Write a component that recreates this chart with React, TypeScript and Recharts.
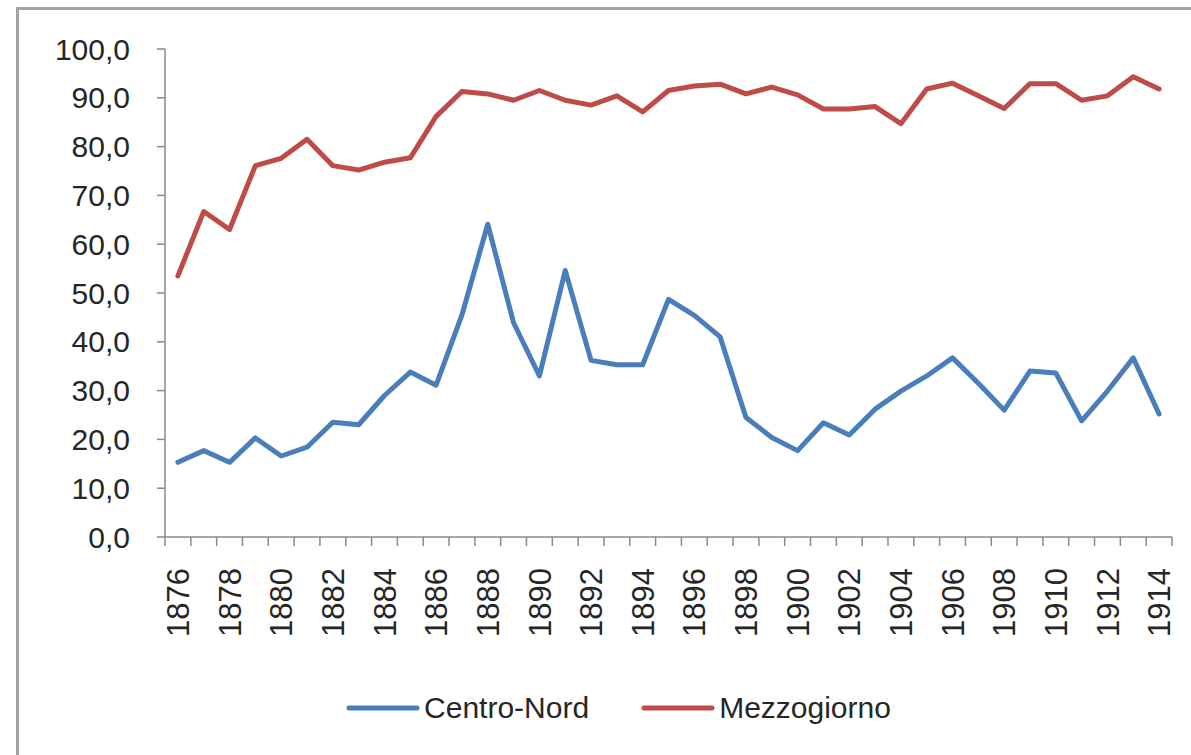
import React from "react";
import { LineChart, Line, XAxis, YAxis, Legend } from "recharts";

const years: number[] = [
  1876, 1877, 1878, 1879, 1880, 1881, 1882, 1883, 1884, 1885,
  1886, 1887, 1888, 1889, 1890, 1891, 1892, 1893, 1894, 1895,
  1896, 1897, 1898, 1899, 1900, 1901, 1902, 1903, 1904, 1905,
  1906, 1907, 1908, 1909, 1910, 1911, 1912, 1913, 1914,
];

const centroNord: number[] = [
  15.3, 17.7, 15.3, 20.3, 16.6, 18.4, 23.5, 23.0, 29.0, 33.8,
  31.1, 45.5, 64.1, 43.9, 33.0, 54.6, 36.2, 35.3, 35.3, 48.7,
  45.4, 41.0, 24.5, 20.4, 17.7, 23.4, 20.9, 26.2, 29.9, 33.0,
  36.7, 31.5, 26.0, 34.0, 33.6, 23.8, 29.9, 36.7, 25.2,
];

const mezzogiorno: number[] = [
  53.5, 66.7, 63.0, 76.1, 77.6, 81.5, 76.1, 75.2, 76.8, 77.7,
  86.2, 91.3, 90.8, 89.5, 91.5, 89.5, 88.5, 90.4, 87.1, 91.5,
  92.4, 92.8, 90.8, 92.2, 90.6, 87.7, 87.7, 88.2, 84.7, 91.8,
  93.0, 90.4, 87.8, 92.9, 92.9, 89.5, 90.4, 94.3, 91.8,
];

const labelYears: number[] = [
  1876, 1878, 1880, 1882, 1884, 1886, 1888, 1890, 1892, 1894,
  1896, 1898, 1900, 1902, 1904, 1906, 1908, 1910, 1912, 1914,
];

const yTicks: number[] = [0, 10, 20, 30, 40, 50, 60, 70, 80, 90, 100];

const seriesNames = { cn: "Centro-Nord", mz: "Mezzogiorno" };
const BLUE = "#4A7EBB";
const RED = "#BE4B48";
const FONT = "'Liberation Sans', Arial, sans-serif";
const TEXT = "#262626";
const AXIS = "#8a8a8a";

const data = years.map((year, i) => ({
  year,
  cn: centroNord[i],
  mz: mezzogiorno[i],
}));

const boundaryTicks: number[] = years
  .map((y) => y - 0.5)
  .concat([years[years.length - 1] + 0.5]);

const fmt = (v: number) => v.toFixed(1).replace(".", ",");

const EmptyTick = () => <g />;

const YearTick = (props: any) => {
  const { x, y, payload } = props;
  return (
    <text
      x={x}
      y={y}
      dy="0.36em"
      transform={`rotate(-90 ${x} ${y})`}
      textAnchor="end"
      fill={TEXT}
      fontSize={31}
      fontFamily={FONT}
    >
      {String(payload.value)}
    </text>
  );
};

const LegendContent = () => {
  const items = [
    { name: seriesNames.cn, color: BLUE },
    { name: seriesNames.mz, color: RED },
  ];
  return (
    <div
      style={{
        display: "flex",
        justifyContent: "center",
        alignItems: "center",
        height: 40,
        fontFamily: FONT,
        fontSize: 30,
        color: TEXT,
      }}
    >
      {items.map((it, idx) => (
        <div
          key={it.name}
          style={{
            display: "flex",
            alignItems: "center",
            marginLeft: idx === 0 ? 0 : 52,
          }}
        >
          <svg width={74} height={10} style={{ marginRight: 4 }}>
            <line
              x1={3}
              y1={5}
              x2={71}
              y2={5}
              stroke={it.color}
              strokeWidth={5}
              strokeLinecap="round"
            />
          </svg>
          <span>{it.name}</span>
        </div>
      ))}
    </div>
  );
};

export default function App() {
  return (
    <>
      <div
        style={{
          position: "fixed",
          left: 16,
          top: 7,
          width: 1300,
          height: 900,
          borderLeft: "3px solid #a3a3a3",
          borderTop: "3px solid #a3a3a3",
          background: "#fff",
          boxSizing: "border-box",
        }}
      />
      <div style={{ position: "fixed", left: 0, top: 0 }}>
        <LineChart
          width={1191}
          height={755}
          data={data}
          margin={{ top: 49, right: 19, left: 65, bottom: 27 }}
          style={{ fontFamily: FONT }}
        >
          <XAxis
            xAxisId="b"
            dataKey="year"
            type="number"
            domain={[boundaryTicks[0], boundaryTicks[boundaryTicks.length - 1]]}
            ticks={labelYears}
            interval={0}
            axisLine={false}
            tickLine={false}
            tickSize={0}
            tickMargin={30}
            height={150}
            tick={<YearTick />}
            allowDataOverflow
          />
          <XAxis
            xAxisId="a"
            dataKey="year"
            type="number"
            domain={[boundaryTicks[0], boundaryTicks[boundaryTicks.length - 1]]}
            ticks={boundaryTicks}
            interval={0}
            tick={<EmptyTick />}
            tickSize={9}
            tickLine={{ stroke: AXIS, strokeWidth: 1.5 }}
            height={1}
            stroke={AXIS}
            strokeWidth={1.5}
            allowDataOverflow
          />
          <YAxis
            domain={[0, 100]}
            ticks={yTicks}
            interval={0}
            width={100}
            tickSize={8}
            tickMargin={27}
            tickFormatter={fmt}
            stroke={AXIS}
            strokeWidth={1.5}
            tick={{ fill: TEXT, fontSize: 30, fontFamily: FONT }}
          />
          <Legend verticalAlign="bottom" content={<LegendContent />} />
          <Line
            xAxisId="a"
            dataKey="cn"
            name={seriesNames.cn}
            stroke={BLUE}
            strokeWidth={5}
            strokeLinejoin="round"
            strokeLinecap="round"
            dot={false}
            isAnimationActive={false}
          />
          <Line
            xAxisId="a"
            dataKey="mz"
            name={seriesNames.mz}
            stroke={RED}
            strokeWidth={5}
            strokeLinejoin="round"
            strokeLinecap="round"
            dot={false}
            isAnimationActive={false}
          />
        </LineChart>
      </div>
    </>
  );
}
